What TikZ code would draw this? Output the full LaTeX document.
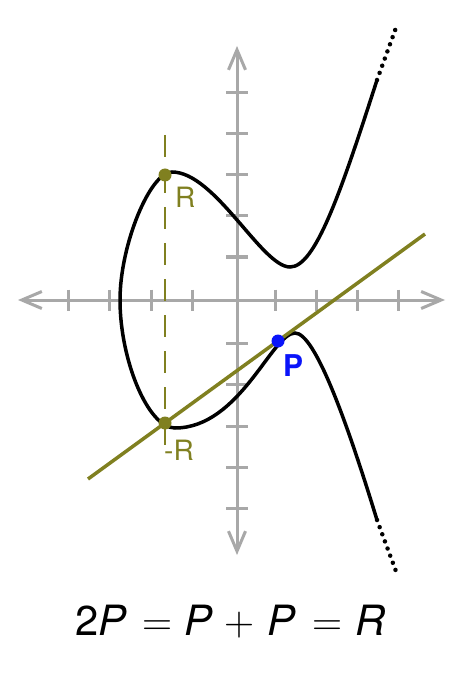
\documentclass[tikz,border=0pt]{standalone}
\usepackage{fontspec}
\setsansfont{TeX Gyre Heros}
\usetikzlibrary{arrows.meta}
\definecolor{olivec}{RGB}{128,128,32}
\definecolor{axisgray}{RGB}{168,168,168}
\definecolor{pblue}{RGB}{10,20,250}
\tikzset{
  axisline/.style={draw=axisgray, line width=3pt, {Straight Barb[length=20pt,width=17pt]}-{Straight Barb[length=20pt,width=17pt]}},
  tickline/.style={draw=axisgray, line width=3pt},
  curveline/.style={draw=black, line width=3.5pt, line cap=round},
  dotline/.style={draw=black, line width=4.5pt, line cap=round, dash pattern=on 0pt off 7.6pt},
  tangentline/.style={draw=olivec, line width=3.5pt},
  vdash/.style={draw=olivec, line width=2.5pt, dash pattern=on 22pt off 14pt},
  ptdot/.style={circle, fill=#1, inner sep=0pt, minimum size=13pt},
  lbl/.style={inner sep=0pt, anchor=base west, font=\sffamily\fontsize{28}{30}\selectfont},
}
\begin{document}
\begin{tikzpicture}[x=1pt, y=-1pt]
\useasboundingbox[fill=white] (0,0) rectangle (474,684);
% axes
\coordinate (xl) at (18,300);
\coordinate (xr) at (445,300);
\coordinate (yt) at (237,46);
\coordinate (yb) at (237,555);
\draw[axisline] (xl) -- (xr);
\draw[axisline] (yt) -- (yb);
\foreach \tx in {68,109,151,192,275,316,357,398}
  \draw[tickline] (\tx,289.5) -- (\tx,310.5);
\foreach \ty in {93,134,175,216,257,343,384,426,467,508}
  \draw[tickline] (226,\ty) -- (248,\ty);
% vertical dashed line through R and -R
\coordinate (vt) at (165,135);
\coordinate (vb) at (165,445);
\draw[vdash] (vt) -- (vb);
% curve
\coordinate (ut1) at (377,80);
\coordinate (ut2) at (397,25);
\coordinate (lt1) at (377,520);
\coordinate (lt2) at (397,574);
\draw[curveline] (ut1) .. controls (340,195) and (315,267) .. (290,267)
  .. controls (262,267) and (215,172) .. (172,172)
  .. controls (150,172) and (120,245) .. (120,300)
  .. controls (120,360) and (148,428) .. (175,428)
  .. controls (240,428) and (272,333) .. (295,333)
  .. controls (315,333) and (347,422) .. (lt1);
\draw[dotline] (ut1) -- (ut2);
\draw[dotline] (lt1) -- (lt2);
% tangent line
\coordinate (ta) at (88,479);
\coordinate (tb) at (425,234);
\draw[tangentline] (ta) -- (tb);
% points
\node[ptdot=olivec] (R) at (165,175) {};
\node[ptdot=olivec] (mR) at (165,423) {};
\node[ptdot=pblue] (P) at (278,341) {};
% labels
\node[lbl, text=olivec] (Rl) at (175,208) {R};
\node[lbl, text=olivec] (mRl) at (164,460) {-R};
\node[lbl, text=pblue, font=\sffamily\bfseries\fontsize{30}{32}\selectfont] (Pl) at (283,376) {P};
% equation
\node[inner sep=0pt, anchor=base west, font=\sffamily\fontsize{41.7}{45}\selectfont] (eq) at (75.5,635)
 {2\textit{P}\hspace{14.7pt}{\rmfamily =}\hspace{12.9pt}\textit{P}\hspace{11pt}{\rmfamily +}\hspace{12.6pt}\textit{P}\hspace{16.9pt}{\rmfamily =}\hspace{13pt}\textit{R}};
\end{tikzpicture}
\end{document}
